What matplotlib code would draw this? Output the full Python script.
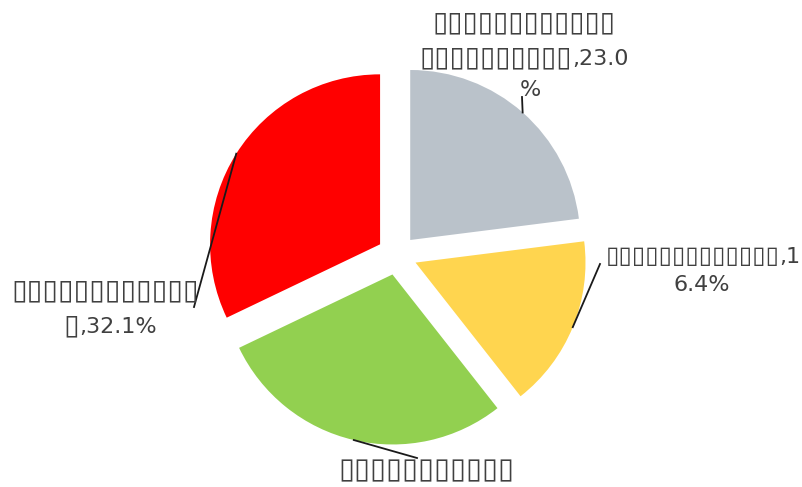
import matplotlib
matplotlib.use("Agg")
import matplotlib.pyplot as plt
import math

# ---- data (category names are rendered as missing-glyph boxes in the reference) ----
categories = ["▯" * 22, "▯" * 13, "▯" * 11, "▯" * 13]
values = [23.0, 16.4, 28.5, 32.1]
colors = ["#BAC2CA", "#FFD54F", "#92D050", "#FF0000"]

# ---- layout (pixels) ----
W, H = 803, 487
CX, CY, R = 397, 255, 170          # pie centre and radius in pixels
EXPLODE_PX = 20
breaks = [[12, 27], [15], [11], [12]]          # where each label wraps
visible = [3, 2, 1, 2]                          # lines visible inside the canvas
label_x = [[524, 524, 530], [703, 702], [426], [105, 110]]
label_base = [[30, 65, 96], [263, 291], [478], [298, 333]]   # text baselines
leader_end = [(522, 97), (600, 264), (417, 458), (194, 307)]
BOX_FS = [20, 17.6, 21, 20.5]
TXT_FS = 16


def to_data(x, y):
    return ((x - CX) / R, (CY - y) / R)


fig = plt.figure(figsize=(W / 100, H / 100), dpi=100)
ax = fig.add_axes([0, 0, 1, 1])
wedges, _ = ax.pie(values, colors=colors, startangle=90, counterclock=False,
                   explode=[EXPLODE_PX / R] * len(values), radius=1, center=(0, 0))
ax.set_xlim(-CX / R, (W - CX) / R)
ax.set_ylim((CY - H) / R, CY / R)
ax.set_aspect("equal")
ax.axis("off")

renderer = fig.canvas.get_renderer()
text_color = "#404040"


def draw_line(line, cx_px, base_px, box_fs):
    n = len(line) - len(line.lstrip("▯"))
    parts = [(line[:n], box_fs), (line[n:], TXT_FS)]
    objs = []
    for s, fs in parts:
        if not s:
            continue
        t = ax.text(0, 0, s, ha="left", va="baseline", fontsize=fs,
                    color=text_color, family="DejaVu Sans")
        objs.append(t)
    widths = [o.get_window_extent(renderer).width for o in objs]
    left = cx_px - sum(widths) / 2
    for o, wdt in zip(objs, widths):
        o.set_position(to_data(left, base_px))
        left += wdt


for i, (w, name, v) in enumerate(zip(wedges, categories, values)):
    full = f"{name},{v:.1f}%"
    cuts = [0] + breaks[i] + [len(full)]
    lines = [full[a:b] for a, b in zip(cuts[:-1], cuts[1:])][:visible[i]]
    for line, lx, ly in zip(lines, label_x[i], label_base[i]):
        draw_line(line, lx, ly, BOX_FS[i])
    # leader line from wedge rim (mid angle) to label
    th = math.radians((w.theta1 + w.theta2) / 2)
    cx, cy = w.center
    sx, sy = cx + w.r * math.cos(th), cy + w.r * math.sin(th)
    ex, ey = to_data(*leader_end[i])
    ax.plot([sx, ex], [sy, ey], color="#1a1a1a", lw=1.3)

fig.savefig("out.png", dpi=100)
